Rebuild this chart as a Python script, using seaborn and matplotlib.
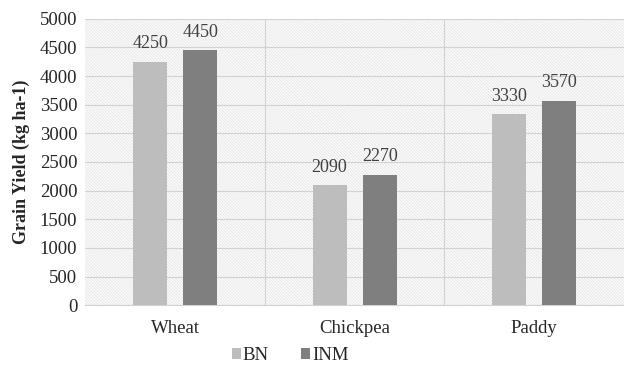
import pandas as pd
import matplotlib.pyplot as plt
import seaborn as sns
from matplotlib.patches import Rectangle

crops = ["Wheat", "Chickpea", "Paddy"]
bn = [4250, 2090, 3330]
inm = [4450, 2270, 3570]

df = pd.DataFrame({
    "Crop": crops * 2,
    "Treatment": ["BN"] * 3 + ["INM"] * 3,
    "Yield": bn + inm,
})

sns.set_style("white")
plt.rcParams["font.family"] = ["Liberation Serif", "DejaVu Serif"]
plt.rcParams["hatch.linewidth"] = 0.3
plt.rcParams["hatch.color"] = "#d6d6d6"

fig = plt.figure(figsize=(6.24, 3.69), dpi=100)
ax = fig.add_axes([0.137, 0.173, 0.863, 0.776])

# fine diagonal hatched plot background
bg = Rectangle((0, 0), 1, 1, transform=ax.transAxes, facecolor="#fafafa",
               edgecolor="#d6d6d6", hatch="\\" * 11, linewidth=0, zorder=0)
ax.add_patch(bg)

sns.barplot(data=df, x="Crop", y="Yield", hue="Treatment",
            palette={"BN": "#bdbdbd", "INM": "#7f7f7f"},
            width=0.56, gap=0.32, ax=ax, zorder=3, linewidth=0)

for c in ax.containers:
    ax.bar_label(c, fontsize=13, color="#404040", padding=7)

ax.set_ylim(0, 5000)
ax.set_yticks(range(0, 5001, 500))
ax.set_xlim(-0.5, 2.5)
ax.set_axisbelow(True)
ax.yaxis.grid(True, color="#d2d2d2", linewidth=0.8)
for xv in [0.5, 1.5]:
    ax.axvline(xv, color="#d2d2d2", linewidth=0.8, zorder=1)

for s in ["top", "right", "left"]:
    ax.spines[s].set_visible(False)
ax.spines["bottom"].set_color("#d2d2d2")
ax.tick_params(length=0, labelsize=13.5, colors="#262626", pad=6)
ax.tick_params(axis="x", pad=11)
ax.set_xlabel("")
ax.set_ylabel("Grain Yield (kg ha-1)", fontsize=13, fontweight="bold", labelpad=7)

h, l = ax.get_legend_handles_labels()
ax.legend(h, l, loc="center", bbox_to_anchor=(0.465, 0.036),
          bbox_transform=fig.transFigure, ncol=2, frameon=False,
          fontsize=13.5, handlelength=0.5, handleheight=0.5,
          handletextpad=0.1, columnspacing=1.7)

fig.savefig("out.png", dpi=100)
plt.close()
